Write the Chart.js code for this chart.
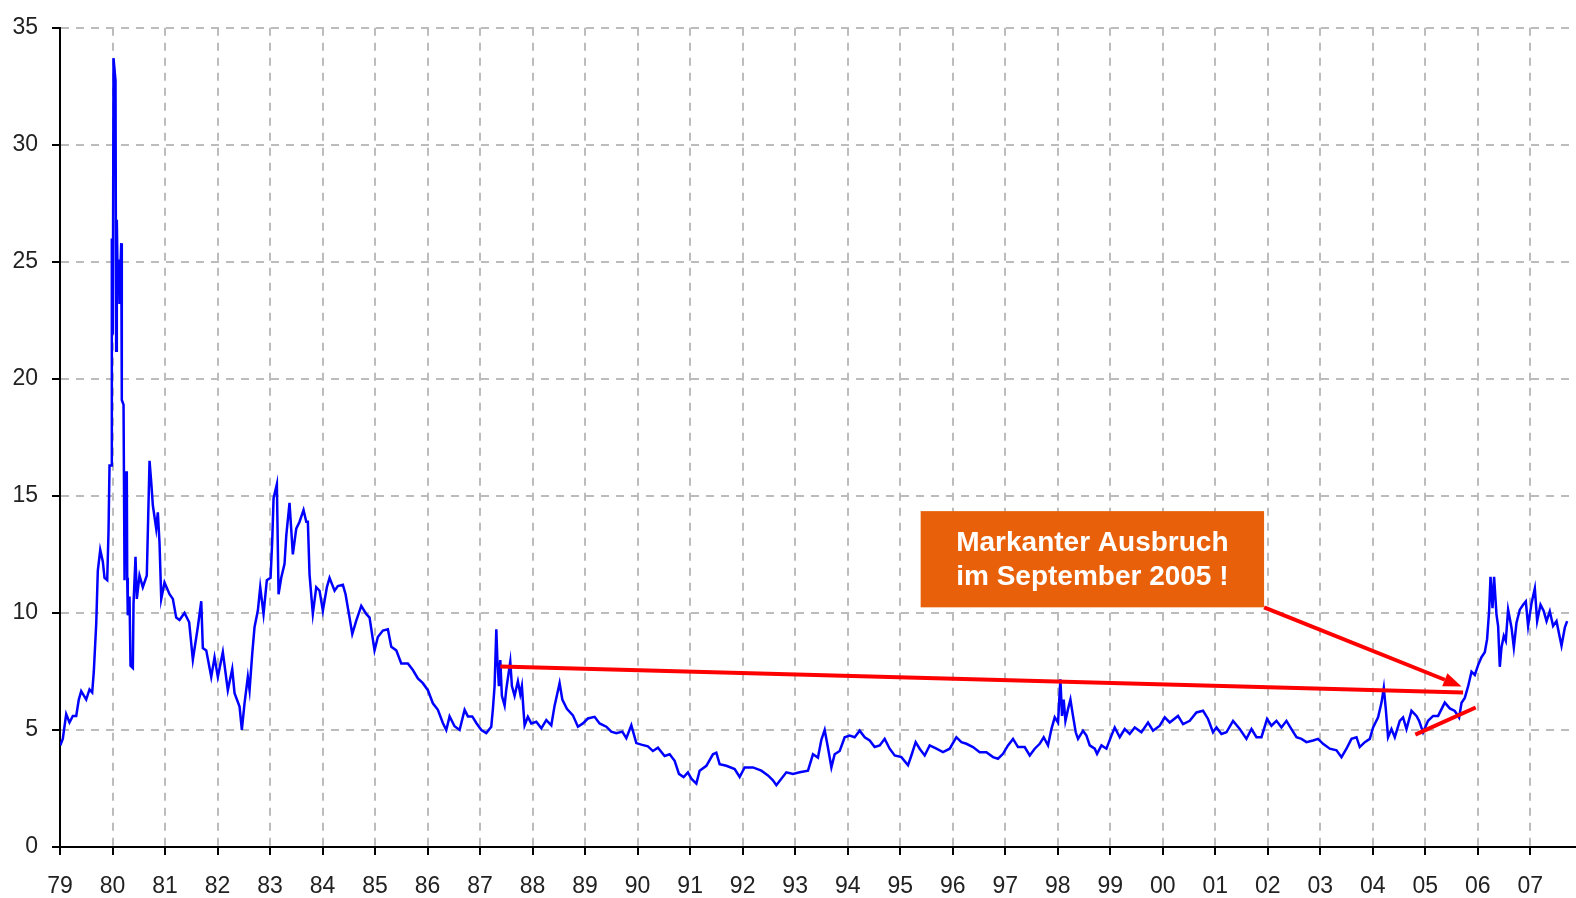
<!DOCTYPE html>
<html>
<head>
<meta charset="utf-8">
<script src="https://cdn.jsdelivr.net/npm/chart.js@4.4.0/dist/chart.umd.min.js"></script>
<style>
  html, body { margin: 0; padding: 0; background: #fff; }
  #wrap { width: 1576px; height: 898px; }
</style>
</head>
<body>
<div id="wrap"><canvas id="chartSilber" width="1576" height="898"></canvas></div>
<script>
// Jahre seit Jan 1979 (Dezimal) und Kurs
const jahre = [
  0.004, 0.053, 0.118, 0.181, 0.244, 0.309, 0.358, 0.404, 0.499, 0.562, 0.613, 0.644, 0.690, 0.720, 0.766, 0.815, 0.848, 0.899, 0.924, 0.943,
  0.975, 0.987, 1.006, 1.019, 1.057, 1.070, 1.082, 1.101, 1.120, 1.133, 1.166, 1.177, 1.210, 1.229, 1.242, 1.272, 1.280, 1.291, 1.324, 1.343,
  1.387, 1.400, 1.438, 1.463, 1.514, 1.577, 1.653, 1.672, 1.705, 1.737, 1.768, 1.832, 1.863, 1.895, 1.928, 1.990, 2.086, 2.149, 2.213, 2.276,
  2.371, 2.460, 2.530, 2.625, 2.690, 2.720, 2.785, 2.880, 2.943, 3.006, 3.101, 3.196, 3.280, 3.324, 3.419, 3.463, 3.514, 3.577, 3.610, 3.661,
  3.705, 3.768, 3.813, 3.876, 3.939, 4.010, 4.042, 4.067, 4.130, 4.162, 4.213, 4.276, 4.309, 4.371, 4.434, 4.499, 4.562, 4.638, 4.690, 4.720,
  4.752, 4.815, 4.880, 4.943, 5.006, 5.082, 5.133, 5.229, 5.291, 5.387, 5.438, 5.514, 5.566, 5.642, 5.737, 5.832, 5.895, 5.990, 6.053, 6.149,
  6.244, 6.309, 6.404, 6.499, 6.625, 6.720, 6.815, 6.910, 7.006, 7.101, 7.196, 7.291, 7.356, 7.419, 7.514, 7.610, 7.705, 7.768, 7.851, 7.928,
  8.023, 8.118, 8.213, 8.244, 8.276, 8.309, 8.328, 8.358, 8.385, 8.415, 8.467, 8.499, 8.575, 8.606, 8.657, 8.720, 8.766, 8.796, 8.829, 8.848,
  8.910, 8.975, 9.070, 9.166, 9.261, 9.356, 9.419, 9.514, 9.566, 9.653, 9.768, 9.863, 9.958, 10.053, 10.181, 10.276, 10.404, 10.499, 10.594, 10.709,
  10.785, 10.880, 10.975, 11.070, 11.196, 11.291, 11.387, 11.514, 11.610, 11.705, 11.787, 11.876, 11.958, 12.023, 12.118, 12.181, 12.309, 12.434, 12.499, 12.562,
  12.690, 12.848, 12.943, 13.038, 13.196, 13.356, 13.482, 13.577, 13.642, 13.737, 13.832, 13.958, 14.086, 14.244, 14.339, 14.434, 14.499, 14.562, 14.625, 14.690,
  14.752, 14.848, 14.943, 15.038, 15.133, 15.229, 15.324, 15.419, 15.514, 15.610, 15.705, 15.800, 15.895, 16.023, 16.149, 16.213, 16.295, 16.371, 16.467, 16.562,
  16.690, 16.815, 16.943, 17.070, 17.166, 17.261, 17.387, 17.514, 17.642, 17.768, 17.863, 17.958, 18.053, 18.149, 18.244, 18.371, 18.467, 18.562, 18.657, 18.733,
  18.815, 18.880, 18.943, 19.006, 19.051, 19.082, 19.114, 19.147, 19.196, 19.242, 19.291, 19.343, 19.387, 19.482, 19.547, 19.610, 19.705, 19.749, 19.833, 19.928,
  20.023, 20.086, 20.181, 20.276, 20.371, 20.467, 20.594, 20.720, 20.815, 20.943, 21.038, 21.133, 21.291, 21.387, 21.514, 21.642, 21.768, 21.863, 21.958, 22.023,
  22.118, 22.213, 22.339, 22.467, 22.594, 22.690, 22.785, 22.880, 22.987, 23.070, 23.166, 23.261, 23.356, 23.451, 23.547, 23.642, 23.737, 23.863, 23.958, 24.053,
  24.181, 24.309, 24.404, 24.499, 24.594, 24.690, 24.752, 24.848, 24.943, 25.006, 25.101, 25.166, 25.210, 25.248, 25.291, 25.356, 25.419, 25.514, 25.577, 25.642,
  25.737, 25.832, 25.882, 25.958, 26.053, 26.149, 26.244, 26.371, 26.467, 26.562, 26.644, 26.690, 26.752, 26.815, 26.880, 26.943, 27.006, 27.070, 27.133, 27.177,
  27.215, 27.242, 27.280, 27.310, 27.356, 27.387, 27.419, 27.451, 27.495, 27.533, 27.577, 27.642, 27.686, 27.737, 27.800, 27.863, 27.914, 27.958, 28.023, 28.086,
  28.130, 28.194, 28.257, 28.309, 28.371, 28.434, 28.499, 28.549, 28.594, 28.657, 28.701
];

const kurs = [
  4.34, 4.62, 5.68, 5.32, 5.6, 5.6, 6.3, 6.66, 6.3, 6.73, 6.6, 7.5, 9.55, 11.8, 12.7, 12.2, 11.5, 11.4, 13.5, 16.3,
  16.3, 26.0, 21.9, 33.7, 32.75, 21.2, 26.8, 23.7, 25.1, 23.2, 25.8, 19.1, 18.9, 11.4, 16.0, 16.0, 11.5, 9.9, 10.7, 7.75,
  7.65, 10.4, 12.4, 10.6, 11.6, 11.1, 11.6, 13.4, 16.5, 15.6, 14.6, 13.6, 14.3, 13.0, 10.6, 11.3, 10.8, 10.6, 9.8, 9.7,
  10.0, 9.6, 8.0, 9.4, 10.5, 8.5, 8.4, 7.27, 8.1, 7.27, 8.33, 6.7, 7.6, 6.57, 6.0, 5.0, 6.14, 7.27, 6.7, 8.26,
  9.4, 10.1, 11.1, 9.96, 11.4, 11.5, 13.1, 14.9, 15.5, 10.8, 11.5, 12.1, 13.3, 14.7, 12.5, 13.6, 13.9, 14.4, 13.9, 13.9,
  11.65, 9.96, 11.1, 10.95, 10.1, 11.1, 11.5, 10.95, 11.15, 11.2, 10.8, 9.8, 9.1, 9.67, 10.3, 9.96, 9.8, 8.4, 8.97, 9.25,
  9.3, 8.55, 8.4, 7.84, 7.84, 7.56, 7.2, 7.0, 6.7, 6.14, 5.86, 5.3, 5.0, 5.58, 5.16, 5.0, 5.86, 5.58, 5.58, 5.3,
  5.0, 4.87, 5.14, 5.9, 6.875, 9.3, 8.06, 6.875, 7.99, 6.46, 6.04, 6.74, 7.92, 6.875, 6.46, 7.08, 6.53, 6.875, 5.76, 5.2,
  5.56, 5.28, 5.35, 5.07, 5.42, 5.2, 6.04, 7.0, 6.3, 5.9, 5.625, 5.14, 5.28, 5.49, 5.56, 5.28, 5.14, 4.93, 4.86, 4.93,
  4.65, 5.2, 4.44, 4.375, 4.3, 4.1, 4.24, 3.89, 3.96, 3.68, 3.125, 2.99, 3.19, 2.92, 2.71, 3.26, 3.47, 3.96, 4.03, 3.54,
  3.47, 3.33, 2.99, 3.4, 3.4, 3.26, 3.06, 2.85, 2.64, 2.92, 3.19, 3.125, 3.19, 3.26, 3.96, 3.82, 4.58, 5.0, 4.24, 3.4,
  3.96, 4.1, 4.69, 4.76, 4.69, 4.97, 4.69, 4.55, 4.27, 4.34, 4.62, 4.2, 3.91, 3.84, 3.49, 3.91, 4.48, 4.2, 3.91, 4.34,
  4.2, 4.05, 4.2, 4.69, 4.48, 4.41, 4.27, 4.05, 4.05, 3.84, 3.77, 3.98, 4.34, 4.62, 4.27, 4.27, 3.91, 4.2, 4.41, 4.69,
  4.34, 5.04, 5.54, 5.32, 7.16, 5.6, 6.3, 5.39, 5.89, 6.3, 5.6, 4.9, 4.62, 4.97, 4.76, 4.34, 4.2, 3.98, 4.34, 4.2,
  4.76, 5.11, 4.69, 5.04, 4.83, 5.11, 4.9, 5.32, 4.97, 5.18, 5.54, 5.32, 5.6, 5.25, 5.39, 5.75, 5.82, 5.47, 4.9, 5.11,
  4.83, 4.9, 5.39, 5.04, 4.62, 5.04, 4.69, 4.69, 5.47, 5.18, 5.39, 5.11, 5.39, 5.04, 4.69, 4.62, 4.48, 4.55, 4.62, 4.41,
  4.2, 4.13, 3.84, 4.2, 4.62, 4.69, 4.27, 4.48, 4.62, 5.11, 5.54, 6.17, 6.8, 5.89, 4.69, 5.04, 4.69, 5.39, 5.54, 5.04,
  5.82, 5.6, 5.39, 4.9, 5.39, 5.6, 5.6, 6.17, 5.92, 5.81, 5.53, 6.16, 6.37, 6.86, 7.49, 7.35, 7.77, 8.11, 8.32, 8.88,
  10.07, 11.54, 10.2, 11.54, 9.93, 9.44, 7.7, 8.53, 9.02, 8.81, 10.14, 9.37, 8.53, 9.58, 10.14, 10.35, 10.49, 9.44, 10.42, 11.05,
  9.65, 10.35, 10.07, 9.65, 10.07, 9.44, 9.65, 9.09, 8.6, 9.37, 9.65
];

// Achsenbeschriftung
const tickPositionen = [0, 1, 2, 3, 4, 5, 6, 7, 8, 9, 10, 11, 12, 13, 14, 15, 16, 17, 18, 19, 20, 21, 22, 23, 24, 25, 26, 27, 28];
const tickLabels = ["79", "80", "81", "82", "83", "84", "85", "86", "87", "88", "89", "90", "91", "92", "93", "94",
  "95", "96", "97", "98", "99", "00", "01", "02", "03", "04", "05", "06", "07"];
const yTicks = [0, 5, 10, 15, 20, 25, 30, 35];

// Annotationen (in Datenkoordinaten)
const widerstandLinie = [[8.385, 7.71], [26.72, 6.6]];
const unterstuetzungLinie = [[25.81, 4.8], [26.96, 5.96]];
const pfeilLinie = [[22.93, 10.24], [26.69, 6.86]];
const textBox = { x1: 16.39, x2: 22.93, y1: 14.35, y2: 10.24 };
const boxTexte = ["Markanter Ausbruch", "im September 2005 !"];

const schrift = "'Liberation Sans', Arial, sans-serif";

const annotationPlugin = {
  id: 'annotationen',
  afterDatasetsDraw(chart) {
    const ctx = chart.ctx;
    const xs = chart.scales.x, ys = chart.scales.y;
    const px = p => [xs.getPixelForValue(p[0]), ys.getPixelForValue(p[1])];

    ctx.save();
    ctx.strokeStyle = '#ff0000';
    ctx.fillStyle = '#ff0000';
    ctx.lineWidth = 4;
    ctx.lineCap = 'butt';

    [widerstandLinie, unterstuetzungLinie].forEach(l => {
      const a = px(l[0]), b = px(l[1]);
      ctx.beginPath();
      ctx.moveTo(a[0], a[1]);
      ctx.lineTo(b[0], b[1]);
      ctx.stroke();
    });

    // Pfeil
    const a = px(pfeilLinie[0]), b = px(pfeilLinie[1]);
    const ang = Math.atan2(b[1] - a[1], b[0] - a[0]);
    const kopf = 18, breite = 7;
    const bx = b[0] - kopf * Math.cos(ang), by = b[1] - kopf * Math.sin(ang);
    ctx.beginPath();
    ctx.moveTo(a[0], a[1]);
    ctx.lineTo(bx, by);
    ctx.stroke();
    ctx.beginPath();
    ctx.moveTo(b[0], b[1]);
    ctx.lineTo(bx + breite * Math.sin(ang), by - breite * Math.cos(ang));
    ctx.lineTo(bx - breite * Math.sin(ang), by + breite * Math.cos(ang));
    ctx.closePath();
    ctx.fill();

    // Textbox
    const l = xs.getPixelForValue(textBox.x1), r = xs.getPixelForValue(textBox.x2);
    const t = ys.getPixelForValue(textBox.y1), u = ys.getPixelForValue(textBox.y2);
    ctx.fillStyle = '#e9600b';
    ctx.fillRect(l, t, r - l, u - t);
    ctx.fillStyle = '#ffffff';
    ctx.font = "bold 28px " + schrift;
    ctx.textAlign = 'center';
    ctx.textBaseline = 'middle';
    const h = u - t;
    ctx.fillText(boxTexte[0], (l + r) / 2, t + h * 0.33);
    ctx.fillText(boxTexte[1], (l + r) / 2, t + h * 0.69);
    ctx.restore();
  }
};

const gitter = {
  color: '#bcbcbc',
  lineWidth: 2,
  drawTicks: true,
  tickLength: 8,
  tickColor: '#000000',
  tickWidth: 2,
  tickBorderDash: []
};
const rand = { color: '#000000', width: 2, dash: [8, 7] };

new Chart(document.getElementById('chartSilber').getContext('2d'), {
  type: 'line',
  data: {
    datasets: [{
      data: jahre.map((j, i) => ({ x: j, y: kurs[i] })),
      borderColor: '#0000ff',
      borderWidth: 2.5,
      pointRadius: 0,
      tension: 0,
      fill: false
    }]
  },
  options: {
    responsive: false,
    animation: false,
    layout: { padding: { top: 20, right: 0, left: 0, bottom: 0 } },
    plugins: { legend: { display: false }, tooltip: { enabled: false } },
    scales: {
      x: {
        type: 'linear',
        min: 0,
        max: 28.87,
        afterBuildTicks: s => { s.ticks = tickPositionen.map(v => ({ value: v })); },
        afterFit: s => { s.height = 51; },
        grid: gitter,
        border: rand,
        ticks: {
          autoSkip: false,
          maxRotation: 0,
          padding: 18,
          color: '#222222',
          font: { family: schrift, size: 23 },
          callback: (v, i) => tickLabels[i]
        }
      },
      y: {
        min: 0,
        max: 35,
        afterBuildTicks: s => { s.ticks = yTicks.map(v => ({ value: v })); },
        afterFit: s => { s.width = 60; },
        grid: gitter,
        border: rand,
        ticks: {
          padding: 14,
          color: '#222222',
          font: { family: schrift, size: 23 },
          callback: v => String(v)
        }
      }
    }
  },
  plugins: [annotationPlugin]
});
</script>
</body>
</html>
